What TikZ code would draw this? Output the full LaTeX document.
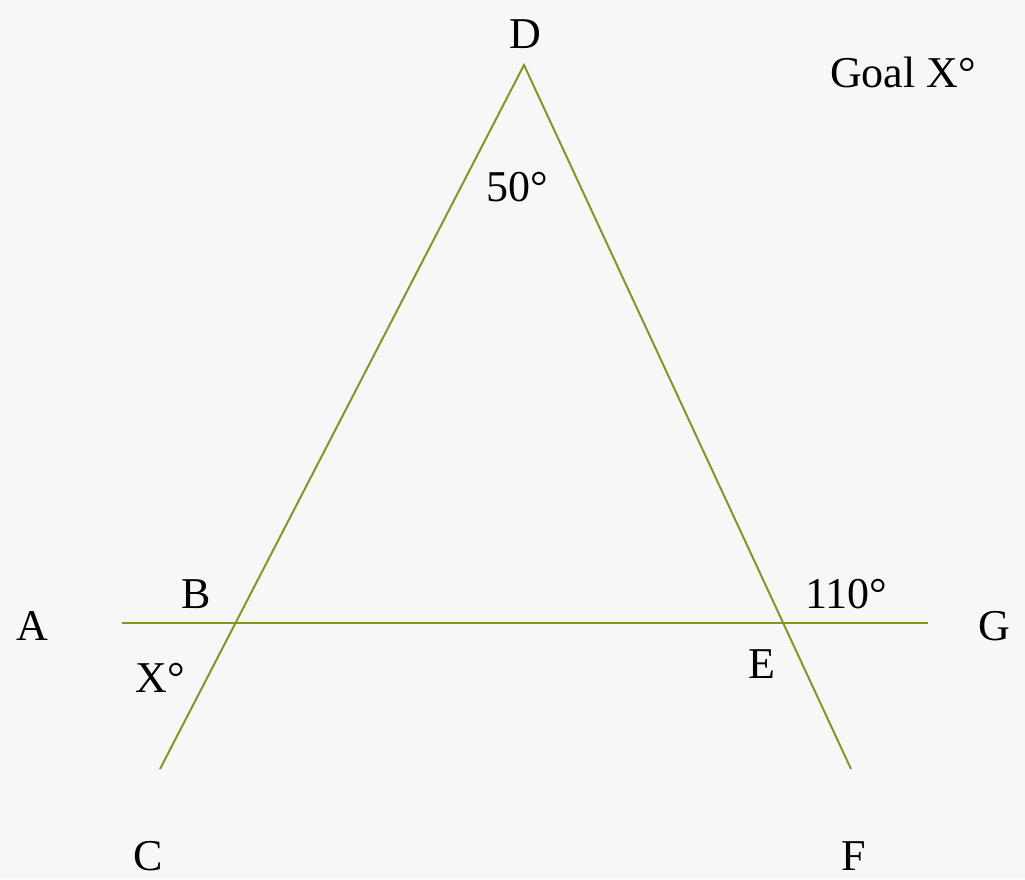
\documentclass[tikz,border=0pt]{standalone}
\usepackage{fontspec}
\setmainfont{Liberation Serif}
\definecolor{olive}{RGB}{128,152,40}
\definecolor{bg}{RGB}{247,247,247}
\begin{document}
\begin{tikzpicture}[x=1pt,y=-1pt,
  lbl/.style={font=\fontsize{44}{48}\selectfont, text=black, inner sep=0pt},
  seg/.style={draw=olive, line width=2pt}]
\fill[bg] (0,0) rectangle (1025,879);
\useasboundingbox (0,0) rectangle (1025,879);
\coordinate (d) at (524,65);
\coordinate (c) at (160,769);
\coordinate (f) at (851,769);
\coordinate (a) at (122,623);
\coordinate (g) at (928,623);
\draw[seg] (c) -- (d) -- (f);
\draw[seg] (a) -- (g);
\node[lbl] (D) at (525,34) {D};
\node[lbl] (goal) at (903,72) {Goal X°};
\node[lbl] (fifty) at (517,187) {50°};
\node[lbl] (B) at (196,594) {B};
\node[lbl] (A) at (32,626) {A};
\node[lbl] (x) at (160,678) {X°};
\node[lbl] (oneten) at (846,594) {110°};
\node[lbl] (E) at (762,664) {E};
\node[lbl] (G) at (994,626) {G};
\node[lbl] (C) at (148,856) {C};
\node[lbl] (F) at (854,856) {F};
\end{tikzpicture}
\end{document}
